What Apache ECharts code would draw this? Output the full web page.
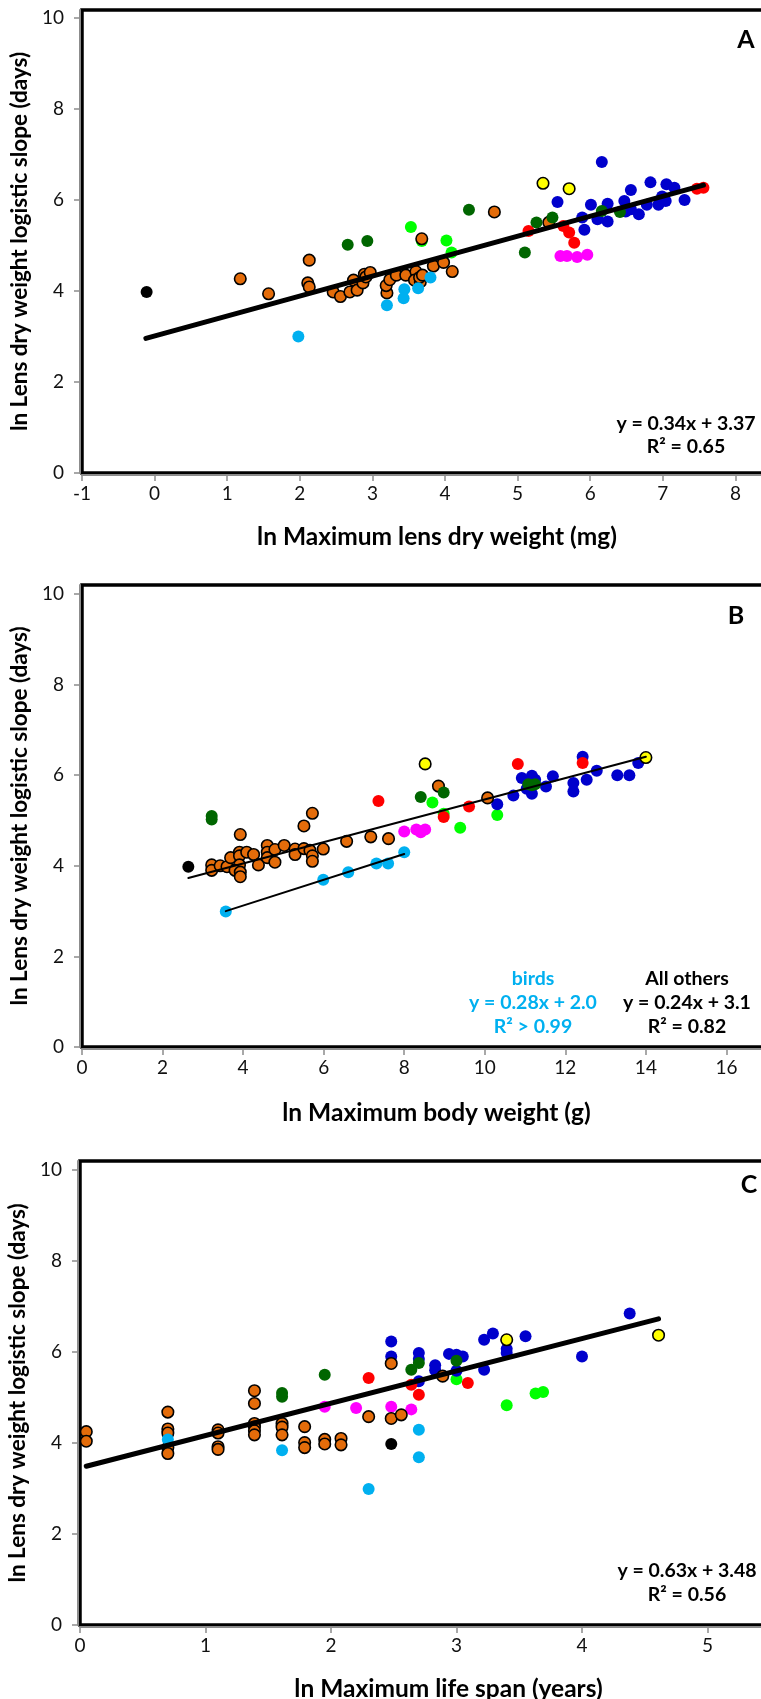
<!DOCTYPE html>
<html><head><meta charset="utf-8">
<script src="https://cdn.jsdelivr.net/npm/echarts@6/dist/echarts.min.js"></script>
<style>html,body{margin:0;padding:0;background:#fff}#c{width:761px;height:1699px}</style>
</head><body><div id="c"></div>
<script>
// ---------- Panel A: ln Maximum lens dry weight (mg) ----------
const A_orange = [[1.18,4.27],[1.57,3.94],[2.13,4.68],[2.11,4.18],[2.13,4.09],[2.46,3.98],[2.56,3.88],[2.69,3.98],[2.74,4.24],[2.79,4.02],[2.87,4.18],[2.89,4.37],[2.91,4.31],[2.97,4.41],[3.2,3.96],[3.19,4.12],[3.24,4.25],[3.33,4.35],[3.46,4.35],[3.6,4.43],[3.58,4.24],[3.66,4.2],[3.65,4.3],[3.69,4.35],[3.68,5.15],[3.84,4.55],[3.98,4.63],[4.1,4.43],[4.68,5.74],[5.43,5.51]];
const A_cyan = [[1.98,3.0],[3.2,3.69],[3.44,4.04],[3.43,3.84],[3.63,4.06],[3.8,4.3]];
const A_ltgreen = [[3.53,5.41],[3.68,5.1],[4.02,5.11],[4.09,4.85]];
const A_dkgreen = [[2.66,5.02],[2.93,5.10],[4.33,5.79],[5.1,4.85],[5.26,5.51],[5.48,5.62],[6.16,5.76],[6.41,5.74]];
const A_red = [[5.15,5.32],[5.63,5.43],[5.71,5.29],[5.78,5.06],[7.47,6.25],[7.56,6.27]];
const A_yellow = [[5.35,6.37],[5.71,6.25]];
const A_magenta = [[5.59,4.77],[5.68,4.77],[5.82,4.75],[5.96,4.8]];
const A_blue = [[5.55,5.96],[5.89,5.62],[5.92,5.35],[6.01,5.9],[6.1,5.58],[6.16,6.84],[6.24,5.92],[6.24,5.53],[6.47,5.98],[6.49,5.75],[6.56,6.22],[6.56,5.8],[6.67,5.69],[6.78,5.9],[6.83,6.39],[6.94,5.9],[6.99,6.08],[7.04,5.98],[7.05,6.35],[7.16,6.27],[7.3,6.0]];
const A_black = [[-0.11,3.98]];
const A_fit = [[-0.12,2.96],[7.56,6.33]];

// ---------- Panel B: ln Maximum body weight (g) ----------
const B_orange = [[3.22,4.02],[3.22,3.9],[3.43,4.0],[3.6,3.98],[3.69,4.18],[3.93,4.69],[3.91,4.3],[3.91,4.22],[3.91,4.02],[3.8,3.9],[3.93,3.86],[3.93,3.76],[4.09,4.3],[4.26,4.25],[4.38,4.02],[4.6,4.45],[4.6,4.3],[4.6,4.18],[4.79,4.36],[4.79,4.08],[5.02,4.45],[5.29,4.37],[5.29,4.25],[5.51,4.88],[5.72,5.16],[5.51,4.38],[5.66,4.34],[5.72,4.22],[5.72,4.1],[5.99,4.37],[6.57,4.54],[7.17,4.64],[7.61,4.6],[8.85,5.76],[10.07,5.5]];
const B_cyan = [[3.57,2.99],[5.99,3.69],[6.61,3.86],[7.31,4.05],[7.6,4.05],[8.0,4.3]];
const B_black = [[2.64,3.98]];
const B_dkgreen = [[3.22,5.1],[3.22,5.02],[8.41,5.52],[8.98,5.62],[11.08,5.8],[11.25,5.8],[11.17,5.78]];
const B_ltgreen = [[8.7,5.4],[8.98,5.15],[9.39,4.84],[10.31,5.12]];
const B_red = [[7.36,5.43],[8.98,5.08],[9.61,5.31],[10.82,6.25],[12.43,6.27]];
const B_magenta = [[8.0,4.76],[8.3,4.8],[8.41,4.74],[8.52,4.8]];
const B_yellow = [[8.52,6.25],[14.0,6.39]];
const B_blue = [[10.31,5.36],[10.71,5.55],[10.92,5.94],[11.17,5.99],[11.25,5.9],[11.04,5.7],[11.17,5.59],[11.52,5.75],[11.69,5.98],[12.2,5.83],[12.2,5.64],[12.43,6.41],[12.53,5.9],[12.78,6.1],[13.29,6.0],[13.59,6.0],[13.81,6.27]];
const B_fitOthers = [[2.64,3.73],[14.0,6.41]];
const B_fitBirds = [[3.57,3.0],[8.0,4.26]];

// ---------- Panel C: ln Maximum life span (years) ----------
const C_orange = [[0.05,4.25],[0.05,4.04],[0.7,4.68],[0.7,4.31],[0.7,4.22],[0.7,3.9],[0.7,3.77],[1.1,4.29],[1.1,4.22],[1.1,3.92],[1.1,3.86],[1.39,5.15],[1.39,4.87],[1.39,4.43],[1.39,4.35],[1.39,4.27],[1.39,4.18],[1.61,4.43],[1.61,4.35],[1.61,4.18],[1.79,4.36],[1.79,4.01],[1.79,3.9],[1.95,4.08],[1.95,3.98],[2.08,4.1],[2.08,3.96],[2.3,4.58],[2.48,5.75],[2.48,4.54],[2.56,4.62],[2.89,5.47]];
const C_cyan = [[0.7,4.08],[1.61,3.84],[2.3,2.99],[2.7,4.29],[2.7,3.69]];
const C_dkgreen = [[1.61,5.1],[1.61,5.02],[1.95,5.5],[2.64,5.61],[2.7,5.76],[3.0,5.81]];
const C_magenta = [[1.95,4.8],[2.2,4.77],[2.48,4.8],[2.64,4.74]];
const C_red = [[2.3,5.43],[2.64,5.28],[2.7,5.06],[3.09,5.32],[3.4,6.27]];
const C_black = [[2.48,3.98]];
const C_blue = [[2.48,6.23],[2.48,5.9],[2.7,5.98],[2.7,5.85],[2.7,5.36],[2.83,5.71],[2.83,5.6],[2.94,5.96],[3.0,5.94],[3.0,5.59],[3.05,5.9],[3.22,6.27],[3.22,5.61],[3.29,6.41],[3.4,6.07],[3.4,5.98],[3.55,6.35],[4.0,5.9],[4.38,6.85]];
const C_ltgreen = [[3.0,5.4],[3.4,4.83],[3.63,5.09],[3.69,5.12]];
const C_yellow = [[3.4,6.27],[4.61,6.37]];
const C_fit = [[0.05,3.49],[4.61,6.73]];

// tick labels
const Y_TICKS = [0,2,4,6,8,10];
const X_TITLES = ['ln Maximum lens dry weight (mg)','ln Maximum body weight (g)','ln Maximum life span (years)'];
const Y_TITLE = 'ln Lens dry weight logistic slope (days)';

const COL = {orange:'#E46C0A', cyan:'#00B0F0', ltgreen:'#00FF00', dkgreen:'#006600', red:'#FF0000', magenta:'#FF00FF', yellow:'#FFFF00', blue:'#0000CC', black:'#000000'};
const FONT = 'Lato';

function sc(i, data, colorKey, z, bordered){
  return {type:'scatter', xAxisIndex:i, yAxisIndex:i, data:data, symbolSize: bordered?11.5:12, z:z,
    itemStyle:{color:COL[colorKey], borderColor: bordered?'#000':COL[colorKey], borderWidth: bordered?1.6:0, opacity:1},
    emphasis:{disabled:true}, silent:true};
}
function ln(i, data, w){
  return {type:'line', xAxisIndex:i, yAxisIndex:i, data:data, symbol:'none', z:20, silent:true,
    lineStyle:{color:'#000', width:w, cap:'round'}};
}
function panel(i, sets){
  const out = [];
  const order = [['ltgreen',2,false],['magenta',3,false],['blue',4,false],['red',5,false],['orange',6,true],['cyan',7,false],['dkgreen',8,false],['yellow',9,true],['black',10,false]];
  order.forEach(o=>{ if(sets[o[0]]) out.push(sc(i, sets[o[0]], o[0], o[1], o[2])); });
  return out;
}

const grids = [
  {left:82, top:10, width:726, height:463},
  {left:82, top:585, width:725, height:462},
  {left:80, top:1161, width:753, height:464}
];
const xRanges = [[-1,9,1],[0,18,2],[0,6,1]];
const yMax = [10.18, 10.2, 10.2];
const xNameGap = [50, 52, 50];

const option = {
  animation:false,
  backgroundColor:'#fff',
  grid: grids.map(g=>Object.assign({show:true, borderColor:'#000', borderWidth:3.5, containLabel:false, outerBoundsMode:'none'}, g)),
  xAxis: xRanges.map((r,i)=>({type:'value', gridIndex:i, min:r[0], max:r[1], interval:r[2], offset:2,
    name:X_TITLES[i], nameLocation:'middle', nameGap:xNameGap[i],
    nameTextStyle:{fontFamily:FONT, fontWeight:'bold', fontSize:24.5, color:'#000', padding:[0,16,0,0]},
    axisLine:{show:true, onZero:false, lineStyle:{color:'#8c8c8c', width:2}},
    axisTick:{show:true, length:6, lineStyle:{color:'#8c8c8c', width:1.5}},
    axisLabel:{fontFamily:FONT, fontSize:19, color:'#111', margin:9},
    splitLine:{show:false}})),
  yAxis: [0,1,2].map(i=>({type:'value', gridIndex:i, min:0, max:yMax[i], offset:2,
    name:Y_TITLE, nameLocation:'middle', nameGap:48, nameRotate:90,
    nameTextStyle:{fontFamily:FONT, fontWeight:'bold', fontSize:22.5, color:'#000'},
    axisLine:{show:true, onZero:false, lineStyle:{color:'#8c8c8c', width:2}},
    axisTick:{show:true, length:6, customValues:Y_TICKS, lineStyle:{color:'#8c8c8c', width:1.5}},
    axisLabel:{fontFamily:FONT, fontSize:19, color:'#111', margin:16, customValues:Y_TICKS},
    splitLine:{show:false}})),
  series: [].concat(
    panel(0,{orange:A_orange,cyan:A_cyan,ltgreen:A_ltgreen,dkgreen:A_dkgreen,red:A_red,yellow:A_yellow,magenta:A_magenta,blue:A_blue,black:A_black}),
    [ln(0,A_fit,5)],
    panel(1,{orange:B_orange,cyan:B_cyan,ltgreen:B_ltgreen,dkgreen:B_dkgreen,red:B_red,yellow:B_yellow,magenta:B_magenta,blue:B_blue,black:B_black}),
    [ln(1,B_fitOthers,2), ln(1,B_fitBirds,2)],
    panel(2,{orange:C_orange,cyan:C_cyan,ltgreen:C_ltgreen,dkgreen:C_dkgreen,red:C_red,yellow:C_yellow,magenta:C_magenta,blue:C_blue,black:C_black}),
    [ln(2,C_fit,5)]
  ),
  graphic: [
    {type:'text', x:746, y:40, style:{text:'A', font:'bold 25px Lato', fill:'#000', align:'center', verticalAlign:'middle'}},
    {type:'text', x:686, y:424, style:{text:'y = 0.34x + 3.37', font:'bold 19.5px Lato', fill:'#000', align:'center', verticalAlign:'middle'}},
    {type:'text', x:686, y:447, style:{text:'R² = 0.65', font:'bold 19.5px Lato', fill:'#000', align:'center', verticalAlign:'middle'}},
    {type:'text', x:736, y:616, style:{text:'B', font:'bold 25px Lato', fill:'#000', align:'center', verticalAlign:'middle'}},
    {type:'text', x:533, y:979, style:{text:'birds', font:'bold 19.5px Lato', fill:'#00B0F0', align:'center', verticalAlign:'middle'}},
    {type:'text', x:533, y:1003, style:{text:'y = 0.28x + 2.0', font:'bold 19.5px Lato', fill:'#00B0F0', align:'center', verticalAlign:'middle'}},
    {type:'text', x:533, y:1027, style:{text:'R² > 0.99', font:'bold 19.5px Lato', fill:'#00B0F0', align:'center', verticalAlign:'middle'}},
    {type:'text', x:687, y:979, style:{text:'All others', font:'bold 19.5px Lato', fill:'#000', align:'center', verticalAlign:'middle'}},
    {type:'text', x:687, y:1003, style:{text:'y = 0.24x + 3.1', font:'bold 19.5px Lato', fill:'#000', align:'center', verticalAlign:'middle'}},
    {type:'text', x:687, y:1027, style:{text:'R² = 0.82', font:'bold 19.5px Lato', fill:'#000', align:'center', verticalAlign:'middle'}},
    {type:'text', x:749, y:1185, style:{text:'C', font:'bold 25px Lato', fill:'#000', align:'center', verticalAlign:'middle'}},
    {type:'text', x:687, y:1571, style:{text:'y = 0.63x + 3.48', font:'bold 19.5px Lato', fill:'#000', align:'center', verticalAlign:'middle'}},
    {type:'text', x:687, y:1595, style:{text:'R² = 0.56', font:'bold 19.5px Lato', fill:'#000', align:'center', verticalAlign:'middle'}}
  ]
};
const chart = echarts.init(document.getElementById('c'), null, {renderer:'canvas', width:761, height:1699});
chart.setOption(option);
</script></body></html>
